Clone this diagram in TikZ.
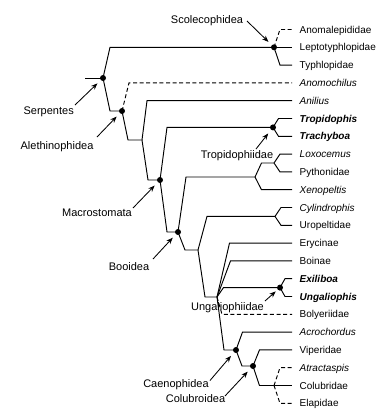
\documentclass[tikz,border=0pt]{standalone}
\usepackage{fontspec}
\setmainfont{Liberation Sans}
\usetikzlibrary{arrows.meta,calc}
\newcommand\tb[4][]{\draw[br,#1] (#3) -- ($(#3 |- #4)+(#2,0)$) -- (#4);}
\begin{document}
\begin{tikzpicture}[x=1pt,y=-1pt,
  br/.style={line width=0.95pt},
  dsh/.style={dash pattern=on 4pt off 2.6pt},
  dot/.style={circle,fill=black,inner sep=0pt,minimum size=6pt},
  leaf/.style={anchor=base west,inner sep=0pt,font=\fontsize{10}{12}\selectfont},
  clade/.style={anchor=base,inner sep=0pt,font=\fontsize{11}{13}\selectfont},
  arr/.style={line width=0.85pt,-{Stealth[length=6.5pt,width=5pt]},shorten >=4.5pt}]
\useasboundingbox (0,0) rectangle (391,416);
% leaf ends
\foreach \i in {0,...,21}{
  \coordinate (e\i) at (292,{29.5+17.8*\i});
}
% leaf labels
\node[leaf] (l0) at (299.5,33.1) {Anomalepididae};
\node[leaf] (l1) at (299.5,50.9) {Leptotyphlopidae};
\node[leaf] (l2) at (299.5,68.7) {Typhlopidae};
\node[leaf] (l3) at (299.5,86.5) {\itshape Anomochilus};
\node[leaf] (l4) at (299.5,104.3) {\itshape Anilius};
\node[leaf] (l5) at (299.5,122.1) {\bfseries\itshape Tropidophis};
\node[leaf] (l6) at (299.5,139.9) {\bfseries\itshape Trachyboa};
\node[leaf] (l7) at (299.5,157.7) {\itshape Loxocemus};
\node[leaf] (l8) at (299.5,175.5) {Pythonidae};
\node[leaf] (l9) at (299.5,193.3) {\itshape Xenopeltis};
\node[leaf] (l10) at (299.5,211.1) {\itshape Cylindrophis};
\node[leaf] (l11) at (299.5,228.9) {Uropeltidae};
\node[leaf] (l12) at (299.5,246.7) {Erycinae};
\node[leaf] (l13) at (299.5,264.5) {Boinae};
\node[leaf] (l14) at (299.5,282.3) {\bfseries\itshape Exiliboa};
\node[leaf] (l15) at (299.5,300.1) {\bfseries\itshape Ungaliophis};
\node[leaf] (l16) at (299.5,317.9) {Bolyeriidae};
\node[leaf] (l17) at (299.5,335.7) {\itshape Acrochordus};
\node[leaf] (l18) at (299.5,353.5) {Viperidae};
\node[leaf] (l19) at (299.5,371.3) {\itshape Atractaspis};
\node[leaf] (l20) at (299.5,389.1) {Colubridae};
\node[leaf] (l21) at (299.5,406.9) {Elapidae};
% internal nodes
\coordinate (R) at (103,78);
\coordinate (S) at (274,47.3);
\coordinate (A) at (122,111);
\coordinate (N1) at (142,140);
\coordinate (M) at (160,180);
\coordinate (T) at (273,127.4);
\coordinate (B) at (178,232);
\coordinate (P) at (255,177);
\coordinate (PL) at (274,163);
\coordinate (N2) at (198,250);
\coordinate (C) at (275,216.4);
\coordinate (U) at (217,297);
\coordinate (G) at (280,287.6);
\coordinate (Cn) at (236,350);
\coordinate (Cb) at (253,366);
\coordinate (K) at (274,385.5);
\coordinate (st) at (85,78);
% branches
\draw[br] (st) -- (R);
\tb{7}{R}{S}
\tb{7}{R}{A}
\tb[dsh]{6}{S}{e0}
\tb{0}{S}{e1}
\tb{6}{S}{e2}
\tb[dsh]{7}{A}{e3}
\tb{6}{A}{N1}
\tb{5}{N1}{e4}
\tb{6}{N1}{M}
\tb{7}{M}{T}
\tb{7}{M}{B}
\tb{5.5}{T}{e5}
\tb{5.5}{T}{e6}
\tb{8}{B}{P}
\tb{7}{B}{N2}
\tb{6.5}{P}{PL}
\tb{6.5}{P}{e9}
\tb{6}{PL}{e7}
\tb{6}{PL}{e8}
\tb{9}{N2}{C}
\tb{7}{N2}{U}
\tb{6}{C}{e10}
\tb{6}{C}{e11}
\tb{12.5}{U}{e12}
\tb{13.5}{U}{e13}
\tb{6.5}{U}{G}
\tb[dsh]{5}{U}{e16}
\tb{7}{U}{Cn}
\tb{5}{G}{e14}
\tb{5}{G}{e15}
\tb{6.5}{Cn}{e17}
\tb{6}{Cn}{Cb}
\tb{6.5}{Cb}{e18}
\tb{6.5}{Cb}{K}
\tb[dsh]{6}{K}{e19}
\tb{0}{K}{e20}
\tb[dsh]{6}{K}{e21}
% dots
\foreach \n in {R,S,A,M,T,B,G,Cn,Cb}{
  \node[dot] (d\n) at (\n) {};
}
% clade labels
\node[clade] (tS) at (207,23.5) {Scolecophidea};
\node[clade] (tR) at (48.7,114) {Serpentes};
\node[clade] (tA) at (57,149) {Alethinophidea};
\node[clade] (tM) at (97,216.7) {Macrostomata};
\node[clade] (tB) at (129,270) {Booidea};
\node[clade] (tT) at (237,158) {Tropidophiidae};
\node[clade] (tG) at (227.5,310.7) {Ungaliophiidae};
\node[clade] (tCn) at (176,387) {Caenophidea};
\node[clade] (tCb) at (195.5,402.3) {Colubroidea};
% arrow starts
\coordinate (aS) at (247,21);
\coordinate (aR) at (75,105);
\coordinate (aA) at (97,137);
\coordinate (aM) at (133,208);
\coordinate (aB) at (153,259);
\coordinate (aT) at (256,149);
\coordinate (aG) at (265,301);
\coordinate (aCn) at (210,380.5);
\coordinate (aCb) at (225,396);
\draw[arr] (aS) -- (dS);
\draw[arr] (aR) -- (dR);
\draw[arr] (aA) -- (dA);
\draw[arr] (aM) -- (dM);
\draw[arr] (aB) -- (dB);
\draw[arr] (aT) -- (dT);
\draw[arr,shorten >=2.5pt] (aG) -- (dG);
\draw[arr] (aCn) -- (dCn);
\draw[arr] (aCb) -- (dCb);
\end{tikzpicture}
\end{document}
